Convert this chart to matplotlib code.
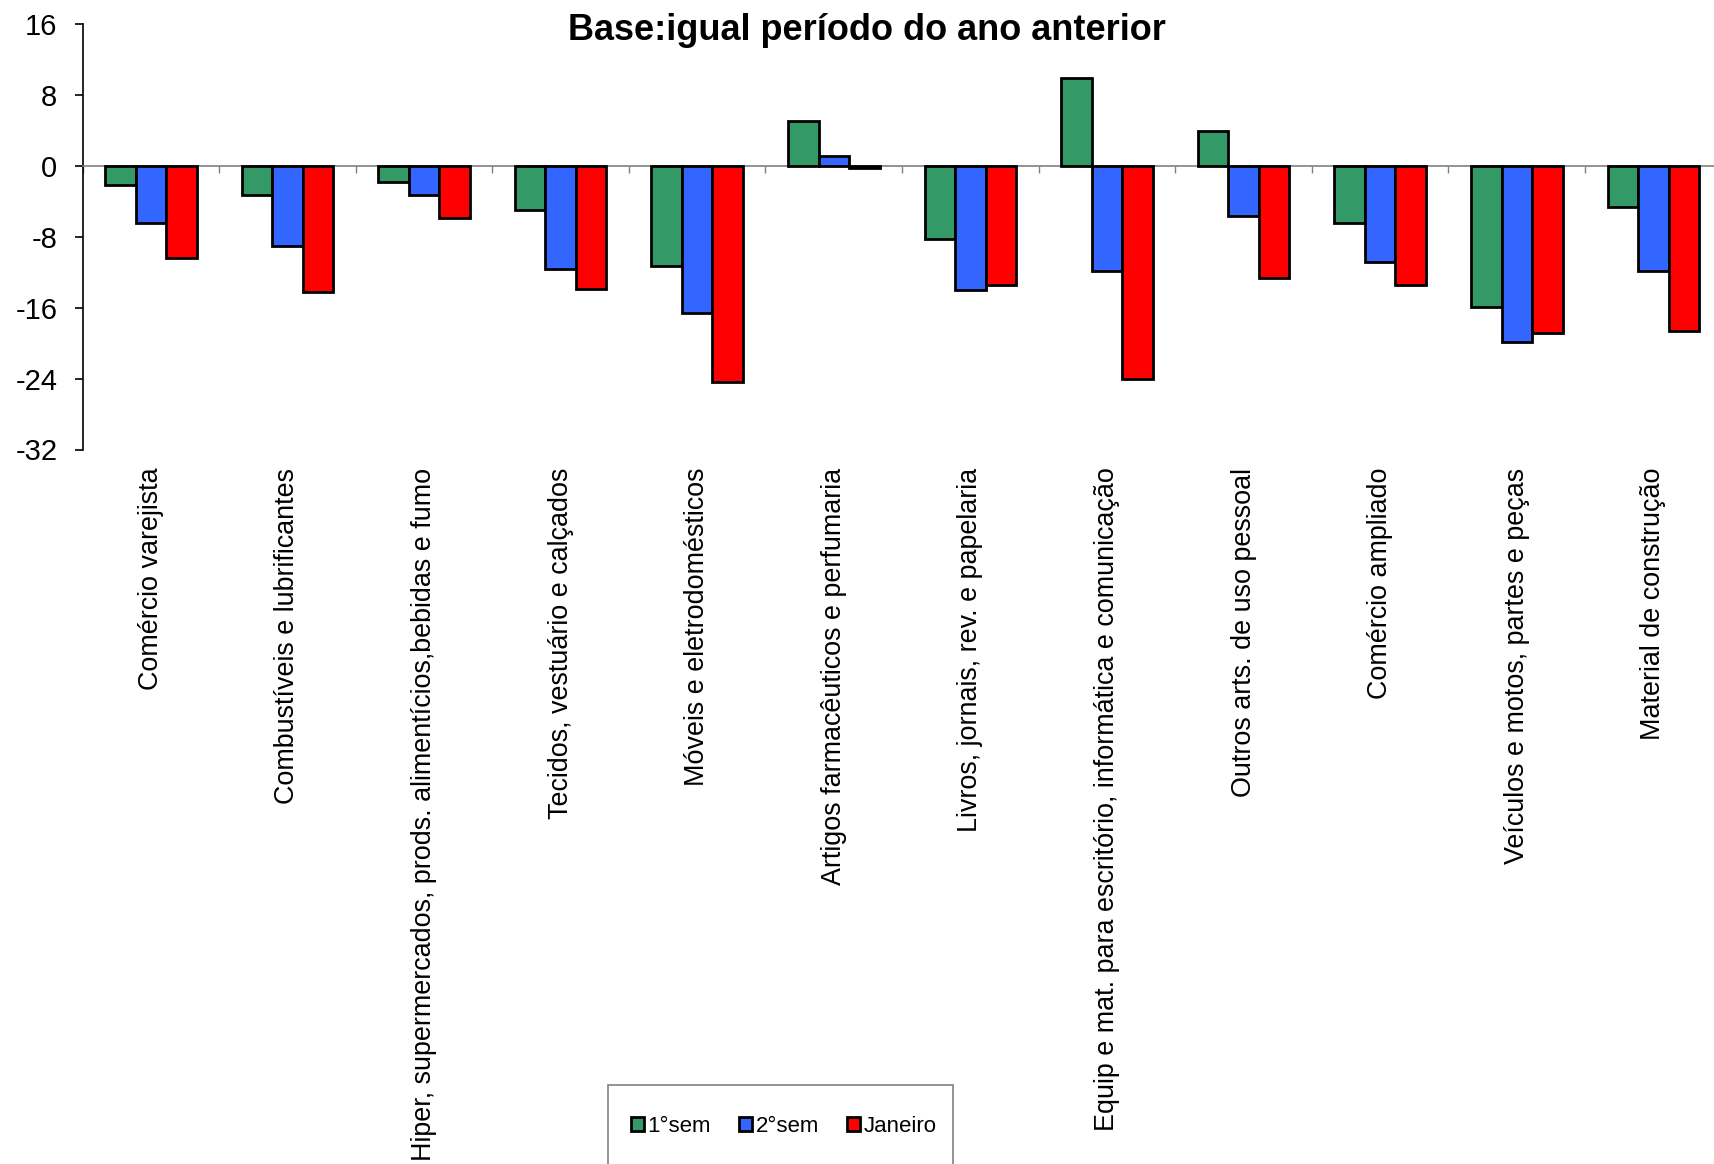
import matplotlib
matplotlib.use('Agg')
import matplotlib.pyplot as plt
import numpy as np
from matplotlib.patches import Patch, Rectangle
from matplotlib.ticker import FixedLocator

categories = [
    "Comércio varejista",
    "Combustíveis e lubrificantes",
    "Hiper, supermercados, prods. alimentícios,bebidas e fumo",
    "Tecidos, vestuário e calçados",
    "Móveis e eletrodomésticos",
    "Artigos farmacêuticos e perfumaria",
    "Livros, jornais, rev. e papelaria",
    "Equip e mat. para escritório, informática e comunicação",
    "Outros arts. de uso pessoal",
    "Comércio ampliado",
    "Veículos e motos, partes e peças",
    "Material de construção",
]
series_names = ["1°sem", "2°sem", "Janeiro"]
sem1 = [-2.2, -3.3, -1.8, -5.0, -11.3, 5.1, -8.3, 9.9, 3.9, -6.5, -15.9, -4.7]
sem2 = [-6.4, -9.0, -3.3, -11.6, -16.6, 1.1, -14.0, -11.9, -5.7, -10.8, -19.9, -11.9]
jan = [-10.4, -14.2, -5.9, -13.9, -24.4, -0.3, -13.4, -24.1, -12.6, -13.4, -18.9, -18.6]
yticks = [16, 8, 0, -8, -16, -24, -32]
title = "Base:igual período do ano anterior"

colors = ["#339966", "#3366FF", "#FF0000"]
regular = ["Liberation Sans", "DejaVu Sans"]

W, H = 1714, 1164
fig = plt.figure(figsize=(W / 100, H / 100), dpi=100)
ax_left = 82.5 / W
ax_w = 12 * 136.6 / W
ax_bottom = (H - 449.5) / H
ax_top = (H - 24) / H
ax = fig.add_axes([ax_left, ax_bottom, ax_w, ax_top - ax_bottom])

# spines first (set_position resets tick properties)
for s in ["right", "bottom"]:
    ax.spines[s].set_visible(False)
ax.spines["top"].set_position(("data", 0))
ax.spines["top"].set_color("#808080")
ax.spines["top"].set_linewidth(1.2)
ax.spines["left"].set_color("black")
ax.spines["left"].set_linewidth(1.2)

x = np.arange(len(categories))
bw = 0.2233
for k, vals in enumerate([sem1, sem2, jan]):
    ax.bar(x + (k - 1) * bw, vals, width=bw, color=colors[k], edgecolor="black",
           linewidth=2.0, zorder=3)

ax.set_xlim(-0.5, len(categories) - 0.5)
ax.set_ylim(-32, 16)

ax.tick_params(axis="x", which="major", bottom=True, top=False, length=0, pad=13)
ax.tick_params(axis="x", which="minor", bottom=False, top=True, direction="in",
               length=5, width=1.0, color="#808080")
ax.tick_params(axis="y", which="major", direction="out", length=6, width=1.2, pad=12)

ax.set_yticks(yticks)
ax.set_yticklabels([str(v) for v in yticks], fontfamily=regular, fontsize=21)

ax.set_xticks(x)
ax.set_xticklabels(categories, rotation=90, fontfamily=regular, fontsize=19.4,
                   va="top", ha="center")
ax.xaxis.set_minor_locator(FixedLocator(np.arange(-0.5, len(categories) + 0.5, 1.0)))

fig.text(867 / W, 1 - 40 / H, title, ha="center", va="baseline",
         fontfamily=regular, fontweight="bold", fontsize=26)

# legend frame (extends past the bottom edge as in the reference)
fig.patches.append(Rectangle((608 / W, -0.05), (953 - 608) / W, (1 - 1085 / H) + 0.05,
                             transform=fig.transFigure, facecolor="white",
                             edgecolor="#808080", linewidth=1.2, zorder=0))

handles = [Patch(facecolor=c, edgecolor="black", linewidth=2.0) for c in colors]
leg = fig.legend(handles, series_names, loc="center left",
                 bbox_to_anchor=(631 / W, 1 - 1126 / H), ncol=3, frameon=False,
                 prop={"family": regular, "size": 16},
                 borderpad=0, handlelength=0.6, handleheight=0.6,
                 handletextpad=0.15, columnspacing=1.25, borderaxespad=0)

fig.savefig("out.png", dpi=100)
